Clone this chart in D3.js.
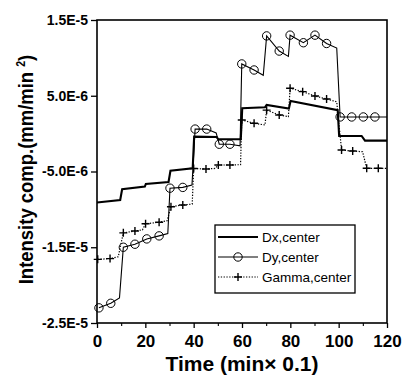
<!DOCTYPE html>
<html><head><meta charset="utf-8">
<script src="https://cdn.jsdelivr.net/npm/d3@7"></script>
<style>html,body{margin:0;padding:0;background:#fff;}svg{display:block;}</style>
</head><body>
<svg id="c" width="404" height="376"></svg>
<script>
// values in units of 1E-6 (mm/min^2)
const xTicks = [0, 20, 40, 60, 80, 100, 120];
const xMinor = [10, 30, 50, 70, 90, 110];
const yTicks = [-25, -15, -5, 5, 15];
const yTickLabels = ["-2.5E-5", "-1.5E-5", "-5.0E-6", "5.0E-6", "1.5E-5"];
const seriesNames = ["Dx,center", "Dy,center", "Gamma,center"];

const dxX = [0, 9.6, 10.4, 19.8, 20.2, 29.6, 30.4, 39.6, 40.2, 49.5, 50.2, 59.5, 60.1, 69.5, 70.2, 79.4, 80.1, 99.6, 100.2, 109.5, 110.9, 120];
const dxV = [-9.1, -8.76, -7.35, -7.0, -6.65, -6.39, -4.9, -4.58, -0.4, -0.45, -0.75, -0.75, 3.34, 3.47, 3.8, 3.3, 4.3, 3.1, -0.31, -0.31, -0.93, -0.93];

const dyX = [0.8, 5.7, 9.3, 10.9, 15.7, 20.6, 25.7, 29.3, 30.2, 35.5, 39.3, 40.6, 45.4, 49.3, 50.6, 55.0, 59.2, 59.9, 65.0, 68.8, 70.2, 75.4, 79.2, 79.9, 85.4, 90.2, 95.0, 99.2, 100.6, 105.4, 110.2, 115.0, 120];
const dyV = [-23.0, -22.4, -21.7, -15.0, -14.6, -13.9, -13.5, -13.2, -7.2, -7.1, -6.8, 0.6, 0.6, 0.1, -1.4, -1.4, -1.6, 9.2, 8.4, 7.7, 12.9, 10.9, 10.2, 13.0, 12.0, 13.0, 11.9, 11.3, 2.2, 2.2, 2.2, 2.2, 2.2];
const dyMark = [1,1,0,1,1,1,1,0,1,1,0,1,1,0,1,1,0,1,1,0,1,1,0,1,1,1,1,0,1,1,1,1,0];

const gX = [0.3, 5.4, 8.8, 10.9, 15.7, 18.8, 20.1, 25.7, 29.0, 30.6, 35.5, 39.4, 40.0, 45.1, 48.8, 50.2, 55.0, 59.4, 59.9, 65.0, 69.5, 70.2, 75.4, 79.2, 79.9, 85.1, 90.2, 95.0, 99.2, 101.2, 105.8, 109.9, 111.6, 116.4, 120];
const gV = [-16.6, -16.5, -16.25, -13.1, -12.85, -12.7, -11.9, -11.7, -11.5, -9.65, -9.42, -9.3, -4.6, -4.67, -4.6, -4.14, -4.14, -4.1, 1.8, 1.36, 1.14, 3.1, 2.46, 2.24, 6.0, 5.54, 4.97, 4.57, 4.2, -2.16, -2.3, -2.39, -4.58, -4.58, -4.6];
const gMark = [1,1,0,1,1,0,1,1,0,1,1,0,1,1,0,1,1,0,1,1,0,1,1,0,1,1,1,1,0,1,1,0,1,1,0];

const L = 97, R = 387, T = 20, B = 323;
const svg = d3.select("#c");
const x = d3.scaleLinear().domain([0, 120]).range([L, R]);
const y = d3.scaleLinear().domain([-25, 15]).range([B, T]);
const FONT = "'Liberation Sans', Arial, sans-serif";

const zip = (xs, vs) => xs.map((d, i) => ({x: d, v: vs[i], i}));
const line = d3.line().x(d => x(d.x)).y(d => y(d.v));

const g = svg.append("g");
g.append("path").datum(zip(gX, gV)).attr("d", line).attr("fill", "none")
  .attr("stroke", "#000").attr("stroke-width", 1.2).attr("stroke-dasharray", "1.3,1.5");
g.append("path").datum(zip(dyX, dyV)).attr("d", line).attr("fill", "none")
  .attr("stroke", "#000").attr("stroke-width", 1.1);
g.append("path").datum(zip(dxX, dxV)).attr("d", line).attr("fill", "none")
  .attr("stroke", "#000").attr("stroke-width", 2.1);

// markers
const plusPath = "M-4,0H4M0,-4V4";
g.selectAll(".plus").data(zip(gX, gV).filter(d => gMark[d.i])).join("path")
  .attr("d", plusPath).attr("transform", d => `translate(${x(d.x)},${y(d.v)})`)
  .attr("stroke", "#000").attr("stroke-width", 1.4).attr("fill", "none");
g.selectAll(".circ").data(zip(dyX, dyV).filter(d => dyMark[d.i])).join("circle")
  .attr("cx", d => x(d.x)).attr("cy", d => y(d.v)).attr("r", 4.2)
  .attr("fill", "none").attr("stroke", "#000").attr("stroke-width", 1);

// frame
svg.append("rect").attr("x", L).attr("y", T).attr("width", R - L).attr("height", B - T)
  .attr("fill", "none").attr("stroke", "#000").attr("stroke-width", 1.6);

// x axis
const xa = svg.append("g").attr("transform", `translate(0,${B})`)
  .call(d3.axisBottom(x).tickValues(xTicks).tickSize(5).tickPadding(7).tickFormat(d3.format("d")));
xa.select(".domain").remove();
xa.selectAll("line").attr("stroke-width", 1.3);
xa.selectAll("text").attr("font-family", FONT).attr("font-weight", "bold").attr("font-size", 17).attr("fill", "#000");
const xm = svg.append("g").attr("transform", `translate(0,${B})`)
  .call(d3.axisBottom(x).tickValues(xMinor).tickSize(3).tickFormat(""));
xm.select(".domain").remove();
xm.selectAll("line").attr("stroke-width", 1.1);

// y axis
const ya = svg.append("g").attr("transform", `translate(${L},0)`)
  .call(d3.axisLeft(y).tickValues(yTicks).tickSize(6).tickPadding(3).tickFormat((d, i) => yTickLabels[i]));
ya.select(".domain").remove();
ya.selectAll("line").attr("stroke-width", 1.3);
ya.selectAll("text").attr("font-family", FONT).attr("font-weight", "bold").attr("font-size", 14).attr("fill", "#000");

// axis titles
svg.append("text").attr("x", (L + R) / 2).attr("y", 371).attr("text-anchor", "middle")
  .attr("font-family", FONT).attr("font-weight", "bold").attr("font-size", 21)
  .text("Time (min\u00D7 0.1)");
const yt = svg.append("text").attr("transform", `translate(33,${(T + B) / 2 - 2}) rotate(-90) scale(0.88,1)`)
  .attr("text-anchor", "middle").attr("font-family", FONT).attr("font-weight", "bold").attr("font-size", 21);
yt.append("tspan").text("Intensity comp.(mm/min ");
yt.append("tspan").attr("dy", -8).attr("font-size", 12).text("2");
yt.append("tspan").attr("dy", 8).text(")");

// legend
const lg = svg.append("g");
lg.append("rect").attr("x", 215).attr("y", 225).attr("width", 140).attr("height", 68)
  .attr("fill", "#fff").attr("stroke", "#000").attr("stroke-width", 1.3);
const rows = [237, 257, 277];
seriesNames.forEach((name, i) => {
  const yy = rows[i];
  const ln = lg.append("line").attr("x1", 218).attr("x2", 258).attr("y1", yy).attr("y2", yy).attr("stroke", "#000");
  if (i === 0) ln.attr("stroke-width", 2.1);
  if (i === 1) { ln.attr("stroke-width", 1); lg.append("circle").attr("cx", 238).attr("cy", yy).attr("r", 4.2).attr("fill", "none").attr("stroke", "#000"); }
  if (i === 2) { ln.attr("stroke-width", 1.2).attr("stroke-dasharray", "1.3,1.5"); lg.append("path").attr("d", plusPath).attr("transform", `translate(238,${yy})`).attr("stroke", "#000").attr("stroke-width", 1.4); }
  lg.append("text").attr("x", 262).attr("y", yy + 5).attr("font-family", FONT).attr("font-size", 13.5).text(name);
});
</script>
</body></html>
